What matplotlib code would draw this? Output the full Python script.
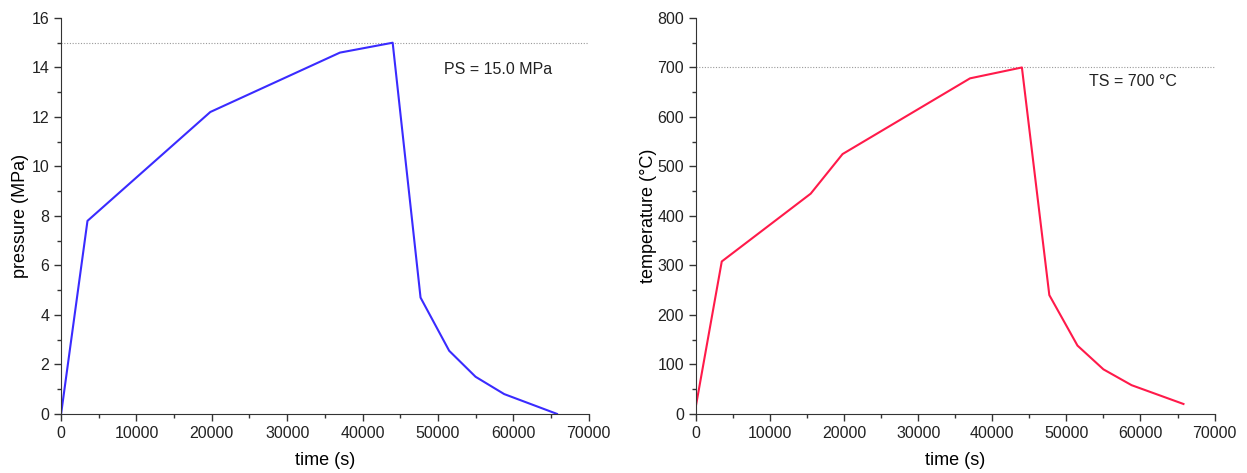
import matplotlib
matplotlib.use("Agg")
import matplotlib.pyplot as plt
from matplotlib.ticker import MultipleLocator

plt.rcParams['font.family'] = ['Liberation Sans', 'DejaVu Sans']

# pressure history
p_time = [0, 3500, 19800, 37000, 44000, 47700, 51500, 55000, 58800, 65800]
p_val = [0, 7.8, 12.2, 14.6, 15.0, 4.7, 2.55, 1.5, 0.8, 0.0]
p_set = 15.0

# temperature history
t_time = [0, 3500, 12000, 15500, 19800, 37000, 44000, 47700, 51500, 55000, 58800, 65800]
t_val = [15, 308, 405, 445, 525, 678, 700, 240, 138, 90, 58, 20]
t_set = 700

fig = plt.figure(figsize=(12.47, 4.73), dpi=100)
ax1 = fig.add_axes([0.049, 0.125, 0.423, 0.837])
ax2 = fig.add_axes([0.558, 0.125, 0.416, 0.837])


def style(ax, ymax, ymaj, ymin):
    ax.set_xlim(0, 70000)
    ax.set_ylim(0, ymax)
    ax.xaxis.set_major_locator(MultipleLocator(10000))
    ax.xaxis.set_minor_locator(MultipleLocator(5000))
    ax.yaxis.set_major_locator(MultipleLocator(ymaj))
    ax.yaxis.set_minor_locator(MultipleLocator(ymin))
    ax.spines['top'].set_visible(False)
    ax.spines['right'].set_visible(False)
    for s in ('left', 'bottom'):
        ax.spines[s].set_color('#333333')
    ax.tick_params(which='major', direction='out', length=5, width=1,
                   color='#333333', labelsize=11.5, labelcolor='#222222')
    ax.tick_params(which='minor', direction='out', length=3, width=1, color='#333333')
    ax.set_xlabel('time (s)', fontsize=13, labelpad=8)


style(ax1, 16, 2, 1)
ax1.axhline(p_set, color='#999999', lw=0.8, ls=(0, (1, 1.5)))
ax1.plot(p_time, p_val, color='#3a2bff', lw=1.5)
ax1.set_ylabel('pressure (MPa)', fontsize=13, labelpad=2)
ax1.text(50800, 13.9, 'PS = 15.0 MPa', fontsize=11.5, va='center', color='#222222')

style(ax2, 800, 100, 50)
ax2.axhline(t_set, color='#999999', lw=0.8, ls=(0, (1, 1.5)))
ax2.plot(t_time, t_val, color='#ff1a4a', lw=1.5)
ax2.set_ylabel('temperature (°C)', fontsize=13, labelpad=0)
ax2.text(53000, 671, 'TS = 700 °C', fontsize=11.5, va='center', color='#222222')

fig.savefig('out.png', dpi=100)
